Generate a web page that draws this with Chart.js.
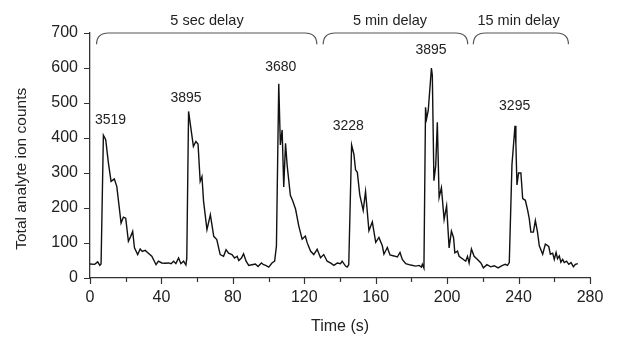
<!DOCTYPE html>
<html>
<head>
<meta charset="utf-8">
<title>Total analyte ion counts</title>
<script src="https://cdn.jsdelivr.net/npm/chart.js@4.4.0/dist/chart.umd.min.js"></script>
<style>
  body { margin: 0; background: #fff; }
  #wrap { width: 630px; height: 340px; }
</style>
</head>
<body>
<div id="wrap"><canvas id="ionChart" width="630" height="340"></canvas></div>
<script>
// trace: time (s) and total ion counts
const times = [
  0, 2.6, 4.3, 5.5, 6.2, 7.5, 8.8, 10.3, 11.8, 13.6, 15, 17.4, 18.7, 20, 21.5, 22.8, 23.9, 24.9,
  26.7, 28.1, 29.3, 30.9, 32.7, 34.6, 37, 38.3, 40.2, 42.1, 44, 45.4, 46.8, 48.1, 49.6, 50.9, 52.4,
  53.7, 54.2, 55.2, 57.9, 59.3, 60.5, 61.7, 62.7, 63.6, 65.5, 67.4, 69.3, 71, 72.9, 74.8, 76.2, 77.6, 79.5,
  81, 82.4, 83.3, 84.8, 86, 87.4, 88.9, 90.7, 92.6, 94.1, 96, 97.2, 98.4, 100.1, 101.9, 103.4,
  104.4, 105.7, 106.6, 107.6, 108.5, 109.5, 110.4, 112.2, 113.5, 115.1, 116.9, 118.8, 120.6, 121.6,
  123.5, 125.3, 127.2, 129.1, 130.9, 132.8, 134.6, 136.6, 138.5, 140.3, 141.2, 143.1, 144, 144.9,
  146.5, 147.8, 148.7, 149.7, 151.1, 153, 154.3, 156.2, 158.1, 160, 161.8, 163.7, 164.6, 166.5, 168,
  170.2, 172.1, 173.6, 174.9, 176.8, 179.6, 182.4, 184.3, 185.6, 186.1, 187, 187.9, 188.5, 189.4,
  191.2, 191.7, 192.6, 193.6, 194.5, 195.5, 196.8, 198.3, 199.7, 201.1, 202.4, 203.6, 204.3, 205.8,
  206.7, 209.1, 210.4, 211.4, 212.3, 213.6, 215.1, 217, 218.9, 220.3, 222.3, 224.4, 226.4, 228.5,
  231, 232.6, 233.8, 234.8, 236.3, 238, 238.5, 239.1, 240, 241.3, 242.3, 243.8, 245.1, 246,
  246.9, 248.3, 249.4, 250.6, 251.6, 253.5, 255, 256.9, 257.8, 259.1, 260, 261, 261.8, 262.8, 263.7,
  264.7, 265.6, 266.9, 268.1, 269.4, 270.7, 271.8, 273.2
];
const counts = [
  40, 39, 46, 36, 40, 408, 395, 329, 276, 283, 262, 157, 174, 171, 105, 119, 133, 86,
  67, 83, 76, 79, 71, 62, 38, 48, 43, 42, 43, 41, 48, 41, 57, 41, 48,
  37, 56, 476, 376, 390, 383, 276, 290, 219, 138, 181, 119, 110, 67, 62, 81, 71, 67,
  57, 62, 50, 57, 69, 48, 36, 38, 40, 33, 43, 38, 36, 31, 43, 48,
  91, 555, 380, 423, 260, 385, 322, 236, 221, 197, 149, 111, 120, 101,
  77, 67, 82, 58, 67, 48, 43, 36, 43, 41, 48, 34, 31, 38,
  380, 353, 309, 302, 237, 193, 247, 135, 160, 102, 116, 92, 68, 87, 66,
  63, 60, 73, 53, 41, 37, 34, 36, 31, 39, 28, 488, 455, 478,
  600, 579, 278, 321, 445, 230, 258, 167, 206, 86, 134, 115, 72, 77,
  62, 53, 48, 62, 43, 83, 62, 53, 43, 29, 38, 32, 35, 29,
  36, 39, 36, 44, 324, 435, 382, 266, 300, 300, 227, 222, 193, 169,
  131, 131, 164, 131, 92, 68, 97, 90, 68, 71, 53, 73, 55, 63, 45,
  53, 44, 48, 39, 44, 32, 39, 41
];

// peak annotations
const peakNames = ["3519", "3895", "3680", "3228", "3895", "3295"];
const peakNameX = [11.5, 53.8, 106.8, 144.6, 191, 237.8];
const peakNameY = [452, 515, 602, 435, 652, 490];

// delay brackets above the plot
const delayNames = ["5 sec delay", "5 min delay", "15 min delay"];
const delayFrom = [3.7, 130.6, 214.7];
const delayTo = [127, 211.5, 267.9];
const delayTextX = [65.5, 168, 240];
const bracketTop = 700;
const bracketFoot = 668;
const delayTextY = 733;

const fontFamily = "'Liberation Sans', Arial, Helvetica, sans-serif";
Chart.defaults.font.family = fontFamily;
Chart.defaults.color = "#222";

let trace = times.map((t, i) => ({ x: t, y: counts[i] }));

const annotations = {
  id: "annotations",
  afterDraw(chart) {
    const { ctx, scales: { x, y } } = chart;
    ctx.save();

    // tick marks, longer on the labelled ones
    ctx.strokeStyle = "#333";
    ctx.lineWidth = 1.2;
    ctx.beginPath();
    x.ticks.forEach((t) => {
      let px = Math.round(x.getPixelForValue(t.value)) + 0.5;
      let len = t.value % 40 === 0 ? 6 : 4;
      ctx.moveTo(px, y.bottom);
      ctx.lineTo(px, y.bottom + len);
    });
    y.ticks.forEach((t) => {
      let py = Math.round(y.getPixelForValue(t.value)) + 0.5;
      ctx.moveTo(x.left, py);
      ctx.lineTo(x.left - 6, py);
    });
    ctx.stroke();

    // brackets
    ctx.strokeStyle = "#555";
    ctx.lineWidth = 1.2;
    let yt = y.getPixelForValue(bracketTop);
    let yb = y.getPixelForValue(bracketFoot);
    for (let i = 0; i < delayNames.length; i++) {
      let x0 = x.getPixelForValue(delayFrom[i]);
      let x1 = x.getPixelForValue(delayTo[i]);
      let r = 12;
      ctx.beginPath();
      ctx.moveTo(x0, yb);
      ctx.quadraticCurveTo(x0, yt, x0 + r, yt);
      ctx.lineTo(x1 - r, yt);
      ctx.quadraticCurveTo(x1, yt, x1, yb);
      ctx.stroke();
    }

    ctx.fillStyle = "#222";
    ctx.textAlign = "center";
    ctx.textBaseline = "middle";
    ctx.font = "14.5px " + fontFamily;
    for (let i = 0; i < delayNames.length; i++) {
      ctx.fillText(delayNames[i], x.getPixelForValue(delayTextX[i]), y.getPixelForValue(delayTextY));
    }

    ctx.font = "14px " + fontFamily;
    for (let i = 0; i < peakNames.length; i++) {
      ctx.fillText(
        peakNames[i],
        x.getPixelForValue(peakNameX[i]),
        y.getPixelForValue(peakNameY[i])
      );
    }

    // y axis title, sits a little lower than the plot centre
    ctx.font = "15.5px " + fontFamily;
    ctx.translate(22, y.getPixelForValue(312));
    ctx.rotate(-Math.PI / 2);
    ctx.fillText("Total analyte ion counts", 0, 0);
    ctx.restore();
  },
};

var ionCtx = document.getElementById("ionChart").getContext("2d");

var ionChart = new Chart(ionCtx, {
  type: "line",
  data: {
    datasets: [
      {
        data: trace,
        borderColor: "#111",
        borderWidth: 1.4,
        pointRadius: 0,
        tension: 0,
        fill: false,
      },
    ],
  },
  options: {
    responsive: false,
    animation: false,
    devicePixelRatio: 1,
    layout: { padding: { top: 33, right: 40, left: 0, bottom: 0 } },
    plugins: {
      legend: { display: false },
      tooltip: { enabled: false },
    },
    scales: {
      x: {
        type: "linear",
        min: 0,
        max: 280,
        afterFit: (s) => { s.height = 62; },
        grid: { display: false, drawTicks: false },
        border: { display: true, color: "#333", width: 1.3 },
        ticks: {
          stepSize: 20,
          autoSkip: false,
          maxRotation: 0,
          padding: 10,
          font: { size: 16 },
          color: "#222",
          callback: (v) => (v % 40 === 0 ? v : ""),
        },
        title: {
          display: true,
          text: "Time (s)",
          font: { size: 16 },
          color: "#222",
          padding: { top: 0, bottom: 4 },
        },
      },
      y: {
        min: 0,
        max: 700,
        afterFit: (s) => { s.width = 90; },
        grid: { display: false, drawTicks: false },
        border: { display: true, color: "#333", width: 1.3 },
        ticks: {
          stepSize: 100,
          padding: 12,
          font: { size: 16 },
          color: "#222",
        },
      },
    },
  },
  plugins: [annotations],
});
</script>
</body>
</html>
